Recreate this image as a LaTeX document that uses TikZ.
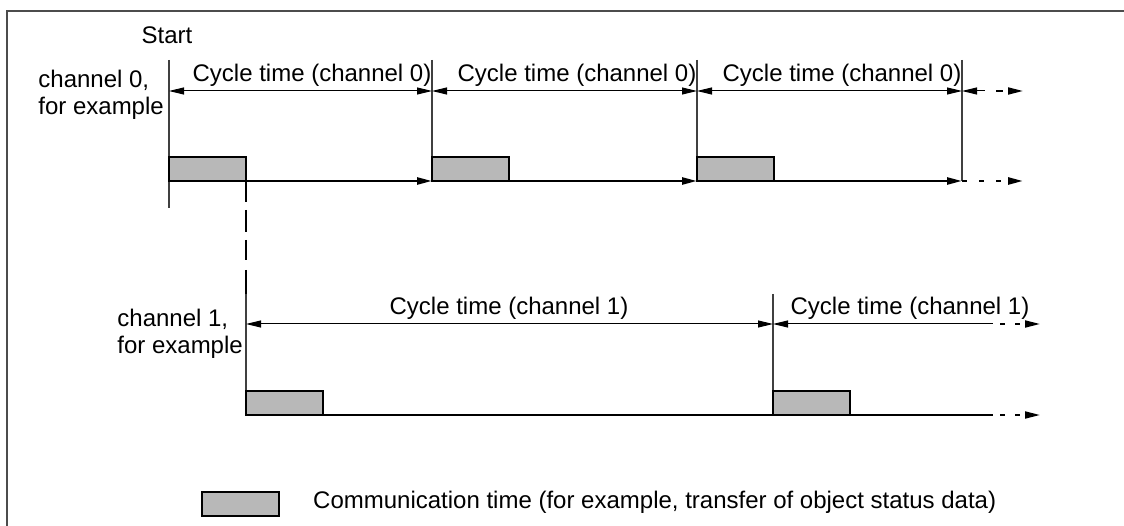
\documentclass[tikz,border=0pt]{standalone}
\usepackage{fontspec}
\setmainfont{Liberation Sans}
\usetikzlibrary{arrows.meta}

\begin{document}
\begin{tikzpicture}[x=1pt, y=-1pt, >={Triangle[length=15pt, width=7pt]}]
	\tikzstyle{txt} = [draw=none, inner sep=0pt, font=\fontsize{24}{27}\selectfont]
	\tikzstyle{side} = [txt, align=left, anchor=east]
	\tikzstyle{comm} = [draw=black, line width=2pt, fill=black!28, minimum width=77pt, minimum height=24pt, inner sep=0pt, outer sep=0pt, anchor=south west]
	\tikzstyle{tick} = [draw=black!75, line width=1.2pt]
	\tikzstyle{dim} = [line width=1pt]
	\tikzstyle{timeline} = [line width=2.5pt]
	\tikzstyle{more} = [line width=1.8pt, dash pattern=on 0pt off 7pt on 5pt off 10pt on 5pt off 10pt]
	
	\useasboundingbox (0,0) rectangle (1124,526);
	\draw[black!70, line width=1.5pt] (7,526) -- (7,11) -- (1124,11);
	
	% channel 0
	\coordinate (t0) at (169,60);
	\coordinate (t1) at (432,60);
	\coordinate (t2) at (697,60);
	\coordinate (t3) at (962,60);
	\coordinate (d0) at (169,91);
	\coordinate (d1) at (432,91);
	\coordinate (d2) at (697,91);
	\coordinate (d3) at (962,91);
	\coordinate (d3x) at (985,91);
	\coordinate (d4) at (1023,91);
	\coordinate (l0) at (169,181);
	\coordinate (l0x) at (169,208);
	\coordinate (l1) at (432,181);
	\coordinate (l2) at (697,181);
	\coordinate (l3) at (962,181);
	\coordinate (l4) at (1023,181);
	
	% channel 1
	\coordinate (u0) at (246,294);
	\coordinate (u1) at (773,294);
	\coordinate (e0) at (246,324);
	\coordinate (e1) at (773,324);
	\coordinate (e1x) at (993,324);
	\coordinate (e2) at (1040,324);
	\coordinate (m0) at (246,415);
	\coordinate (m1) at (773,415);
	\coordinate (m1x) at (993,415);
	\coordinate (m2) at (1040,415);
	
	\node[txt, anchor=base]	at (167,44)		(st)	{Start};
	\node[side]				at (164,95)		(ch0)	{channel 0,\\for example};
	\node[side]				at (243,334)	(ch1)	{channel 1,\\for example};
	\node[txt, anchor=base]	at (312,82)		(k0)	{Cycle time (channel 0)};
	\node[txt, anchor=base]	at (577,82)		(k1)	{Cycle time (channel 0)};
	\node[txt, anchor=base]	at (842,82)		(k2)	{Cycle time (channel 0)};
	\node[txt, anchor=base]	at (509,315)	(k3)	{Cycle time (channel 1)};
	\node[txt, anchor=base]	at (910,315)	(k4)	{Cycle time (channel 1)};
	
	\draw[tick] (t0) -- (l0x);
	\draw[tick] (t1) -- (l1);
	\draw[tick] (t2) -- (l2);
	\draw[tick] (t3) -- (l3);
	\draw[tick] (u0) -- (m0);
	\draw[tick] (u1) -- (m1);
	
	\node[comm] at (l0) (b0) {};
	\node[comm] at (l1) (b1) {};
	\node[comm] at (l2) (b2) {};
	\node[comm] at (m0) (b3) {};
	\node[comm] at (m1) (b4) {};
	
	\path[dim, <->]
	(d0)	edge	(d1)
	(d1)	edge	(d2)
	(d2)	edge	(d3)
	(e0)	edge	(e1);
	\draw[dim, <-] (d3) -- (d3x);
	\draw[dim, <-] (e1) -- (e1x);
	\draw[more, dash pattern=on 0pt off 11pt on 7pt off 20pt, ->] (d3x) -- (d4);
	\draw[more, ->] (e1x) -- (e2);
	
	\path[timeline, ->]
	(l0)	edge	(l1)
	(l1)	edge	(l2)
	(l2)	edge	(l3);
	\draw[timeline, dash pattern=on 5pt off 12pt, ->] (l3) -- (l4);
	\draw[timeline] (m0) -- (m1x);
	\draw[more, ->] (m1x) -- (m2);
	
	\draw[line width=2pt, dash pattern=on 21pt off 8pt on 22pt off 8pt on 20pt off 10pt on 24pt] (b0.south east) -- (u0);
	
	% legend
	\node[comm] at (202,516) (b5) {};
	\node[txt, anchor=base west] at (313,508) (lg) {Communication time (for example, transfer of object status data)};
\end{tikzpicture}
\end{document}
